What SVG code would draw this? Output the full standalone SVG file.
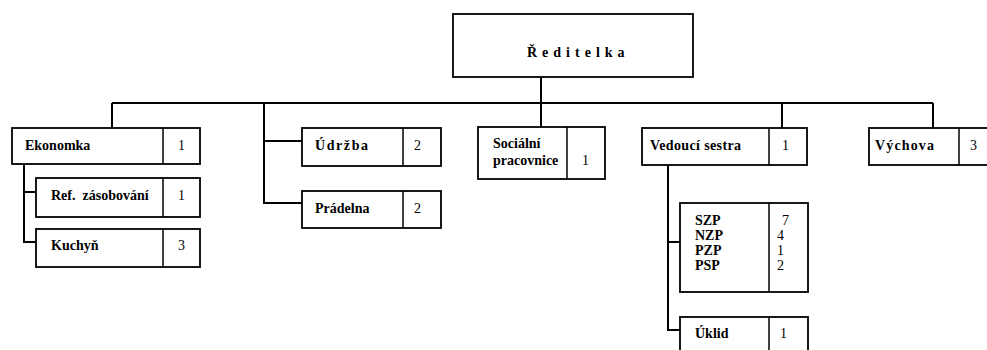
<svg xmlns="http://www.w3.org/2000/svg" width="987" height="350" viewBox="0 0 987 350">
<style>
.box{fill:#fff;stroke:#000;stroke-width:1.8}
.div{stroke:#000;stroke-width:1.5}
.con{fill:none;stroke:#000;stroke-width:2}
.t{font-family:'Liberation Serif',serif;font-size:14px;font-weight:bold;fill:#000}
.n{font-family:'Liberation Serif',serif;font-size:14px;fill:#000}
</style>
<rect width="987" height="350" fill="#fff"/>
<g id="connectors">
<path class="con" d="M112,103 H933 M112,103 V128 M541,77 V128 M782,103 V128 M933,103 V128"/>
<path class="con" d="M24,164 V242 H36 M24,192 H36"/>
<path class="con" d="M264,103 V203 H302 M264,141 H302"/>
<path class="con" d="M668,165 V330 H680 M668,242 H680"/>
</g>
<g id="reditelka">
<rect class="box" x="453" y="14" width="240" height="63"/>
<text class="t" x="527" y="57" letter-spacing="5">Ředitelka</text>
</g>
<g id="ekonomka">
<rect class="box" x="12" y="128" width="188" height="36"/>
<line class="div" x1="163" y1="128" x2="163" y2="164"/>
<text class="t" x="25" y="150">Ekonomka</text>
<text class="n" x="178" y="150">1</text>
</g>
<g id="ref-zasobovani">
<rect class="box" x="36" y="178" width="164" height="39"/>
<line class="div" x1="163" y1="178" x2="163" y2="217"/>
<text class="t" x="51" y="200" xml:space="preserve">Ref.  zásobování</text>
<text class="n" x="178" y="200">1</text>
</g>
<g id="kuchyn">
<rect class="box" x="36" y="229" width="164" height="38"/>
<line class="div" x1="163" y1="229" x2="163" y2="267"/>
<text class="t" x="51" y="250">Kuchyň</text>
<text class="n" x="178" y="250">3</text>
</g>
<g id="udrzba">
<rect class="box" x="302" y="128" width="139" height="38"/>
<line class="div" x1="403" y1="128" x2="403" y2="166"/>
<text class="t" x="315" y="150" textLength="53" lengthAdjust="spacing">Údržba</text>
<text class="n" x="414" y="150">2</text>
</g>
<g id="pradelna">
<rect class="box" x="302" y="191" width="139" height="37"/>
<line class="div" x1="403" y1="191" x2="403" y2="228"/>
<text class="t" x="315" y="213">Prádelna</text>
<text class="n" x="414" y="213">2</text>
</g>
<g id="socialni">
<rect class="box" x="478" y="127" width="127" height="52"/>
<line class="div" x1="567" y1="127" x2="567" y2="179"/>
<text class="t" x="493" y="148">Sociální</text>
<text class="t" x="493" y="165">pracovnice</text>
<text class="n" x="582" y="165">1</text>
</g>
<g id="vedouci">
<rect class="box" x="642" y="128" width="165" height="37"/>
<line class="div" x1="769" y1="128" x2="769" y2="165"/>
<text class="t" x="650" y="150" textLength="91" lengthAdjust="spacing">Vedoucí sestra</text>
<text class="n" x="782" y="150">1</text>
</g>
<g id="vychova">
<rect class="box" x="869" y="128" width="122" height="37"/>
<line class="div" x1="959" y1="128" x2="959" y2="165"/>
<text class="t" x="875" y="150" textLength="59" lengthAdjust="spacing">Výchova</text>
<text class="n" x="970" y="150">3</text>
</g>
<g id="personal">
<rect class="box" x="680" y="203" width="128" height="89"/>
<line class="div" x1="769" y1="203" x2="769" y2="292"/>
<text class="t" x="695" y="225">SZP</text>
<text class="t" x="695" y="240">NZP</text>
<text class="t" x="695" y="255">PZP</text>
<text class="t" x="695" y="270">PSP</text>
<text class="n" x="782" y="225">7</text>
<text class="n" x="777" y="240">4</text>
<text class="n" x="777" y="255">1</text>
<text class="n" x="777" y="270">2</text>
</g>
<g id="uklid">
<rect class="box" x="680" y="317" width="128" height="36"/>
<line class="div" x1="769" y1="317" x2="769" y2="353"/>
<text class="t" x="695" y="338">Úklid</text>
<text class="n" x="780" y="338">1</text>
</g>
</svg>
